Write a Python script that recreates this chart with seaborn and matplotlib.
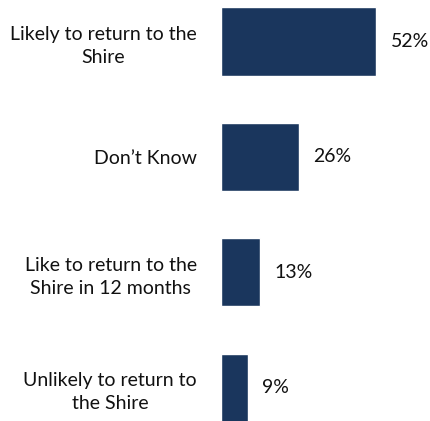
import matplotlib
matplotlib.use("Agg")
import matplotlib.pyplot as plt
import seaborn as sns
import pandas as pd

categories = [
    "Likely to return to the\nShire",
    "Don\u2019t Know",
    "Like to return to the\nShire in 12 months",
    "Unlikely to return to\nthe Shire",
]
values = [52, 26, 13, 9]
value_labels = ["52%", "26%", "13%", "9%"]

sns.set_theme(style="white")
plt.rcParams["font.family"] = ["Lato", "DejaVu Sans"]

df = pd.DataFrame({"category": categories, "value": values})

fig = plt.figure(figsize=(4.30, 4.21), dpi=100)
ax = fig.add_axes([221 / 430, 0, 209 / 430, 1])

sns.barplot(data=df, x="value", y="category", orient="h", color="#1a365d",
            saturation=1, width=0.59, ax=ax)

ax.set_xlim(0, 70.1)
ax.set_ylim(3.29, -0.36)
for sp in ax.spines.values():
    sp.set_visible(False)
ax.set_xticks([])
ax.set_xlabel("")
ax.set_ylabel("")
ax.tick_params(axis="y", length=0, pad=17.5, labelsize=14, labelcolor="#111111")
for lbl in ax.get_yticklabels():
    lbl.set_multialignment("center")
    lbl.set_linespacing(1.45)

ax.bar_label(ax.containers[0], labels=value_labels, padding=10.5,
             fontsize=14, color="#111111")

fig.savefig("out.png", dpi=100)
